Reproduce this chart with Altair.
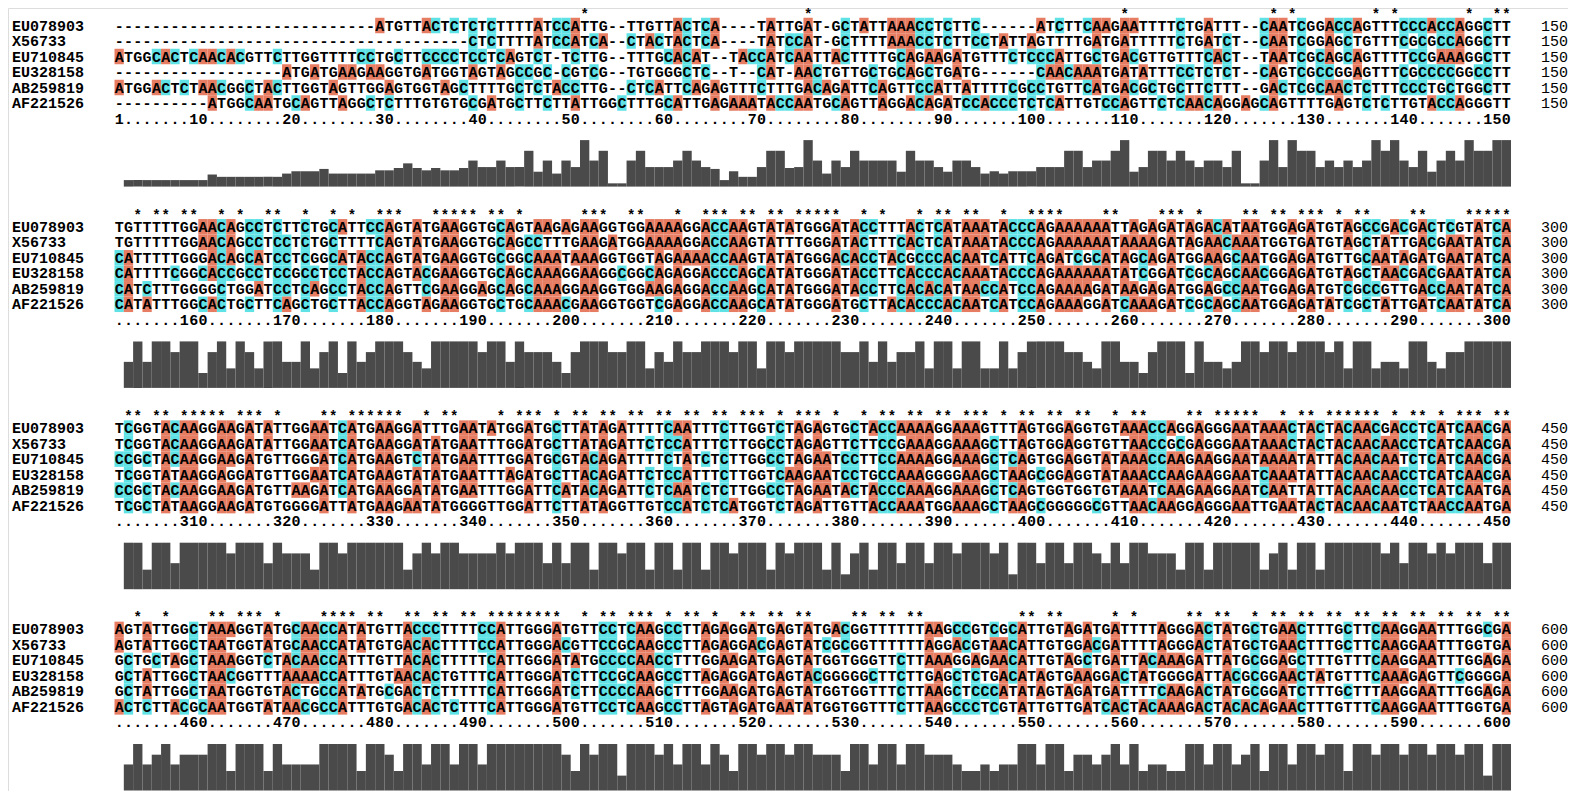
import altair as alt
import pandas as pd
from collections import Counter

# ---------------- data ----------------
NAMES = ["EU078903", "X56733", "EU710845", "EU328158", "AB259819", "AF221526"]

EU078903 = [
    "-" * 28 + "ATGTTACTCTCTCTTTTATCCATTG" + "--" + "TTGTTACTCA" + "----" + "TATTGAT" + "-"
    + "GCTATTAAACCTCTTC" + "------" + "ATCTTCAAGAATTTTCTGATTT" + "--" + "CAATCGGACCAGTTTCCCACCAGGCTT",
    "TGTTTTTGGAACAGCCTCTTCTGCATTCCAGTATGAAGGTGCAGTAAGAGAAGGTGGAAAAGGACCAAGTATATGGGATACCTTTACTCATAAATACCCAGAAAAAATTAGAGATAGACATAATGGAGATGTAGCCGACGACTCGTATCA",
    "TCGGTACAAGGAAGATATTGGAATCATGAAGGATTTGAATATGGATGCTTATAGATTTTCAATTTCTTGGTCTAGAGTGCTACCAAAAGGAAAGTTTAGTGGAGGTGTAAACCAGGAGGGAATAAACTACTACAACGACCTCATCAACGA",
    "AGTATTGGCTAAAGGTATGCAACCATATGTTACCCTTTTCCATTGGGATGTTCCTCAAGCCTTAGAGGATGA"
    + "GTATGACGGTTTTTTAAGCCGTCGCATTGTAGATGATTTTAGGGACTATGCTGAACTTTGCTTCAAGGAATTTGGCGA",
]
X56733 = [
    "-" * 38 + "CTCTTTTATCCATCA" + "--" + "CTACTACTCA" + "----" + "TATCCAT" + "-"
    + "GCTTTTAAACCTCTTC" + "CTATTAGTTTTGATGATTTTTCTGATCT" + "--" + "CAATCGGAGCTGTTTCGCGCCAGGCTT",
    "TGTTTTTGGAACAGCCTCCTCTGCTTTTCAGTATGAAGGTGCAGCCTTTGAAGATGGAAAAGGACCAAGTATTTGGGATACTTTCACTCATAAATACCCAGAAAAAATAAAAGATAGAACAAATGGTGATGTAGCTATTGACGAATATCA",
    "TCGGTACAAGGAAGATATTGGAATCATGAAGGATATGAATTTGGATGCTTATAGATTCTCCATTTCTTGGCCTAGAGTTCTTCCGAAAGGAAAGCTTAGTGGAGGTGTTAACCGCGAGGGAATAAACTACTACAACAACCTCATCAACGA",
    "AGTATTGGCTAATGGTATGCAACCATATGTGACACTTTTCCATTGGGACGTTCCGCAAGCCTTAGAGGACGA"
    + "GTATCGCGGTTTTTTAGGACGTAACATTGTGGACGATTTTAGGGACTATGCTGAACTTTGCTTCAAGGAATTTGGTGA",
]
EU710845 = [
    "ATGGCACTCAACACGTTCTTGGTTTTCCTGCTTCCCCTCCTCAGTCT" + "-" + "TCTTG" + "--" + "TTTGCACAT" + "--"
    + "TACCATCAATTACTTTTGCAGAAGATGTTTCTCCCATTGCTGACGTTGTTTCACT" + "--" + "TAATCGCAGCAGTTTTCCGAAAGGCTT",
    "CATTTTTGGGACAGCATCCTCGGCATACCAGTATGAAGGTGCGGCAAATAAAGGTGGTAGAAAACCAAGTATATGGGACACCTACGCCCACAATCATTCAGATCGCATAGCAGATGGAAGCAATGGAGATGTTGCAATAGATGAATATCA",
    "CCGCTACAAGGAAGATGTTGGGATCATGAAGTCTATGAATTTGGATGCGTACAGATTTTCTATCTCTTGGCCTAGAATCCTTCCAAAAGGAAAGCTCAGTGGAGGTATAAACCAAGAAGGAATAAAATATTACAACAATCTCATCAACGA",
    "GCTGCTAGCTAAAGGTCTACAACCATTTGTTACACTTTTTCATTGGGATATGCCCCAACCTTTGGAAGATGA"
    + "GTATGGTGGGTTCTTAAAGGAGAACATTGTAGCTGATTACAAAGATTATGCGGAGCTTTGTTTCAAGGAATTTGGAGA",
]
EU328158 = [
    "-" * 18 + "ATGATGAAGAAGGTGATGGTAGTAGCCGC" + "-" + "CGTCG" + "--" + "TGTGGGCTC" + "--" + "T" + "--" + "CAT" + "-"
    + "AACTGTTGCTGCAGCTGATG" + "------" + "CAACAAATGATATTTCCTCTCT" + "--" + "CAGTCGCCGGAGTTTCGCCCCGGCCTT",
    "CATTTTCGGCACCGCCTCCGCCTCCTACCAGTACGAAGGTGCAGCAAAGGAAGGCGGCAGAGGACCCAGCATATGGGATACCTTCACCCACAAATACCCAGAAAAAATATCGGATCGCAGCAACGGAGATGTAGCTAACGACGAATATCA",
    "TCGGTATAAGGAGGATGTTGGAATCATGAAGTATATGAATTTAGATGCTTACAGATTCTCCATTTCTTGGTCAAGAATCCTGCCAAAGGGGAAGCTAAGCGGAGGTATAAACCAAGAAGGAATCAAATATTACAACAACCTCATCAACGA",
    "GCTATTGGCTAACGGTTTAAAACCATTTGTAACACTGTTTCATTGGGATCTTCCGCAAGCCTTAGAGGATGA"
    + "GTACGGGGGCTTCTTGAGCTCTGACATAGTGAAGGACTATGGGGATTACGCGGAACTATGTTTCAAAGAGTTCGGGGA",
]
AB259819 = [
    "ATGGACTCTAACGGCTACTTGGTAGTTGGAGTGGTAGCTTTTGCTCTACCTTG" + "--"
    + "CTCATTCAGAGTTTCTTTGACAGATTCAGTTCCATTATTTTCGCCTGTTCATGACGCTGCTTCTTT" + "--" + "GACTCGCAACTCTTTCCCTGCTGGCTT",
    "CATCTTTGGGGCTGGATCCTCAGCCTACCAGTTCGAAGGAGCAGCAAAGGAAGGTGGAAGAGGACCAAGCATATGGGATACCTTCACACATAACCATCCAGAAAAGATAAGAGATGGAGCCAATGGAGATGTCGCCGTTGACCAATATCA",
    "CCGCTACAAGGAAGATGTTAAGATCATGAAGGATATGAATTTGGATTCATACAGATTCTCAATCTCTTGGCCTAGAATACTACCCAAAGGAAAGCTCAGTGGTGGTGTAAATCAAGAAGGAATCAATTATTACAACAACCTCATCAATGA",
    "GCTATTGGCTAATGGTGTACTGCCATATGCGACTCTTTTTCATTGGGATCTTCCCCAAGCTTTGGAAGATGA"
    + "GTATGGTGGTTTCTTAAGCTCCCATATAGTAGATGATTTTCAAGACTATGCGGATCTTTGCTTTAAGGAATTTGGAGA",
]
AF221526 = [
    "-" * 10 + "ATGGCAATGCAGTTAGGCTCTTTGTGTGCGATGCTTCTTATTGGCTTTGCATTGAGAAATACCAATGCAGTTAGGACAGATCCACCCTCTCATTGTCCAGTTCTCAACAGGAGCAGTTTTGAGTCTCTTGTACCAGGGTT",
    "CATATTTGGCACTGCTTCAGCTGCTTACCAGGTAGAAGGTGCTGCAAACGAAGGTGGTCGAGGACCAAGCATATGGGATGCTTACACCCACAATCATCCAGAAAGGATCAAAGATCGCAGCAATGGAGATATCGCTATTGATCAATATCA",
    "TCGCTATAAGGAAGATGTGGGGATTATGAAGAATATGGGGTTGGATTCTTATAGGTTGTCCATCTCATGGTCTAGATTGTTACCAAATGGAAAGCTAAGCGGGGGCGTTAACAAGGAGGGAATTGAATACTACAACAATCTAACCAATGA",
    "ACTCTTACGCAATGGTATAACGCCATTTGTGACACTCTTTCATTGGGATGTTCCTCAAGCCTTAGTAGATGA"
    + "ATATGGTGGTTTCTTAAGCCCTCGTATTGTTGATCACTACAAAGACTACACAGAACTTTGTTTCAAGGAATTTGGTGA",
]
SEQS = [EU078903, X56733, EU710845, EU328158, AB259819, AF221526]
BLOCK_ENDS = ["150", "300", "450", "600"]
RES_COLORS = {"A": "#E67C62", "C": "#5EE2E6"}

# ---------------- layout (chart pixels) ----------------
W, H = 1560, 784
PITCH = 9.31
X_LEFT = 106.5
U0 = -X_LEFT / PITCH
U1 = (W - X_LEFT) / PITCH
BLOCK_H = 201.3
ROW0, ROW_H = 17.5, 15.5
STAR_BASE = 10.5
RULER_Y = 110.5
BAR_BASE, BAR_FULL = 178.6, 46.5
FONT = "Liberation Mono"

xs = alt.Scale(domain=[U0, U1])
ys = alt.Scale(domain=[0, H], reverse=True)

cells, stars, ruler, bars, labels = [], [], [], [], []
for b in range(4):
    top = b * BLOCK_H
    ncol = max(len(s[b]) for s in SEQS)
    rchars = ["."] * ncol
    if b == 0:
        rchars[0] = "1"
    for c in range(1, ncol + 1):
        p = b * 150 + c
        if p % 10 == 0:
            t = str(p)
            for k, d in enumerate(t):
                idx = c - len(t) + k
                if 0 <= idx < ncol:
                    rchars[idx] = d
    for c in range(1, ncol + 1):
        ruler.append(dict(xc=c - 0.5, y=top + RULER_Y, t=rchars[c - 1]))
        col = [s[b][c - 1] if c - 1 < len(s[b]) else "-" for s in SEQS]
        res = [ch for ch in col if ch != "-"]
        if len(res) == 6 and len(set(res)) == 1:
            stars.append(dict(xc=c - 0.5, y=top + STAR_BASE))
        # column quality (derived from the alignment column)
        n = len(res)
        if n:
            m = max(Counter(res).values())
            if n == 6:
                sc = {6: 1.0, 5: 0.77, 4: 0.56, 3: 0.42, 2: 0.32, 1: 0.2}[m]
            else:
                sc = 0.07 * n + 0.05 * max(m - 2, 0)
        else:
            sc = 0.0
        if c > 1:
            bars.append(dict(x0=c - 1, x1=c, y0=top + BAR_BASE, y1=top + BAR_BASE - sc * BAR_FULL))
    for r, name in enumerate(NAMES):
        yc = top + ROW0 + r * ROW_H
        labels.append(dict(y=yc, name=name, end=BLOCK_ENDS[b]))
        for c, ch in enumerate(SEQS[r][b], start=1):
            cells.append(dict(x0=c - 1, x1=c, xc=c - 0.5, yc=yc,
                              ya=yc - ROW_H / 2, yb=yc + ROW_H / 2, ch=ch,
                              bg=RES_COLORS.get(ch, "")))

cells = pd.DataFrame(cells)
colored = cells[cells["bg"] != ""]

bg = alt.Chart(colored).mark_rect().encode(
    x=alt.X("x0:Q", scale=xs, axis=None), x2="x1:Q",
    y=alt.Y("ya:Q", scale=ys, axis=None), y2="yb:Q",
    color=alt.Color("bg:N", scale=None),
)
txt = alt.Chart(cells).mark_text(font=FONT, fontSize=15, fontWeight="bold",
                                 color="black", baseline="middle", align="center").encode(
    x=alt.X("xc:Q", scale=xs, axis=None),
    y=alt.Y("yc:Q", scale=ys, axis=None),
    text="ch:N",
)
star_l = alt.Chart(pd.DataFrame(stars)).mark_text(font=FONT, fontSize=14, fontWeight="bold",
                                                  color="black", baseline="alphabetic",
                                                  align="center", text="*").encode(
    x=alt.X("xc:Q", scale=xs, axis=None),
    y=alt.Y("y:Q", scale=ys, axis=None),
)
ruler_l = alt.Chart(pd.DataFrame(ruler)).mark_text(font=FONT, fontSize=15, fontWeight="bold",
                                                   color="black", baseline="middle",
                                                   align="center").encode(
    x=alt.X("xc:Q", scale=xs, axis=None),
    y=alt.Y("y:Q", scale=ys, axis=None),
    text="t:N",
)
bar_l = alt.Chart(pd.DataFrame(bars)).mark_rect(color="#4a4a4a").encode(
    x=alt.X("x0:Q", scale=xs, axis=None), x2="x1:Q",
    y=alt.Y("y0:Q", scale=ys, axis=None), y2="y1:Q",
)
lab = pd.DataFrame(labels)
name_l = alt.Chart(lab).mark_text(font=FONT, fontSize=15, fontWeight="bold", color="black",
                                  baseline="middle", align="left").encode(
    x=alt.value(4),
    y=alt.Y("y:Q", scale=ys, axis=None),
    text="name:N",
)
end_l = alt.Chart(lab).mark_text(font=FONT, fontSize=15, fontWeight="normal", color="black",
                                 baseline="middle", align="left").encode(
    x=alt.value(1533),
    y=alt.Y("y:Q", scale=ys, axis=None),
    text="end:N",
)

chart = alt.layer(bg, txt, star_l, ruler_l, bar_l, name_l, end_l).properties(
    width=W, height=H, padding=0,
    autosize=alt.AutoSizeParams(type="none"),
).configure_view(strokeWidth=0, stroke="transparent").configure(background="white")

chart.save("out.html", embed_options={"renderer": "svg", "actions": False})
